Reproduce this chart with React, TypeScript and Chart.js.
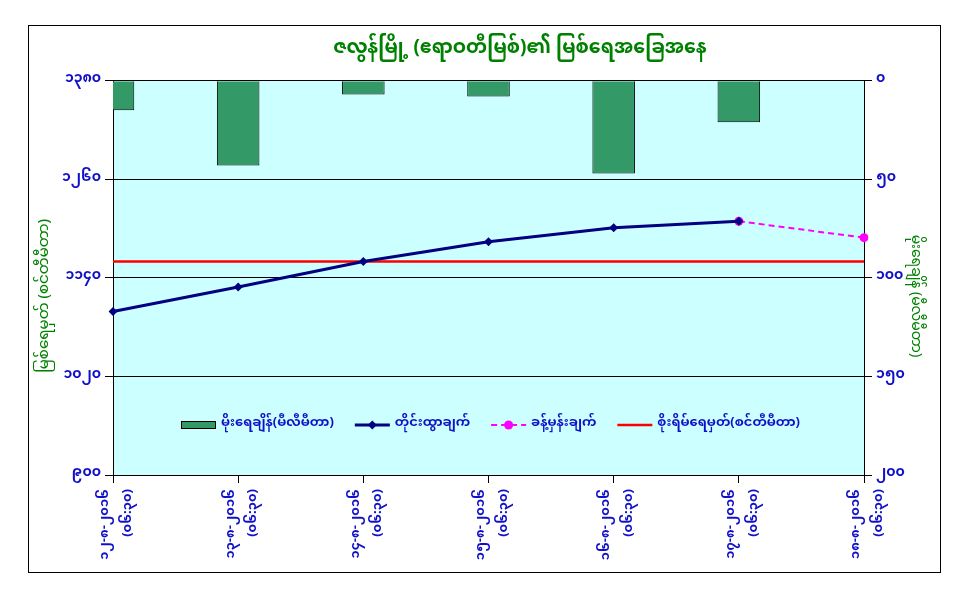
import React, { useEffect, useRef } from 'react';
import { Chart, registerables } from 'chart.js';

Chart.register(...registerables);

const FONT = "'Noto Sans Myanmar', 'Padauk', 'Myanmar Text', 'Myanmar3', 'Noto Sans', 'DejaVu Sans', sans-serif";

const titleText = 'ဇလွန်မြို့ (ဧရာဝတီမြစ်)၏ မြစ်ရေအခြေအနေ';
const leftAxisTitle = 'မြစ်ရေမှတ် (စင်တီမီတာ)';
const rightAxisTitle = 'မိုးရေချိန် (မီလီမီတာ)';

const categories = [
  ['၁၂-၈-၂၀၁၆', '(၀၆:၃၀)'],
  ['၁၃-၈-၂၀၁၆', '(၀၆:၃၀)'],
  ['၁၄-၈-၂၀၁၆', '(၀၆:၃၀)'],
  ['၁၅-၈-၂၀၁၆', '(၀၆:၃၀)'],
  ['၁၆-၈-၂၀၁၆', '(၀၆:၃၀)'],
  ['၁၇-၈-၂၀၁၆', '(၀၆:၃၀)'],
  ['၁၈-၈-၂၀၁၆', '(၀၆:၃၀)'],
];

const seriesLabels = [
  'မိုးရေချိန်(မီလီမီတာ)',
  'တိုင်းထွာချက်',
  'ခန့်မှန်းချက်',
  'စိုးရိမ်ရေမှတ်(စင်တီမီတာ)',
];

const rainfall = [15, 43, 7, 8, 47, 21, 0];
const observedLevel = [1099, 1129, 1160, 1184, 1201, 1209, null];
const forecastLevel = [null, null, null, null, null, 1209, 1189];
const dangerLevel = [1160, 1160, 1160, 1160, 1160, 1160, 1160];

const leftTickValues = [900, 1020, 1140, 1260, 1380];
const leftTickLabels = ['၉၀၀', '၁၀၂၀', '၁၁၄၀', '၁၂၆၀', '၁၃၈၀'];
const rightTickValues = [0, 50, 100, 150, 200];
const rightTickLabels = ['၀', '၅၀', '၁၀၀', '၁၅၀', '၂၀၀'];

const TICK_COLOR = '#1010C8';
const GREEN = '#008000';

const plotBg = {
  id: 'plotBg',
  beforeDraw(chart: any) {
    const { ctx, chartArea } = chart;
    ctx.save();
    ctx.fillStyle = '#CCFFFF';
    ctx.fillRect(chartArea.left, chartArea.top, chartArea.right - chartArea.left, chartArea.bottom - chartArea.top);
    ctx.restore();
  },
};

const shiftTitle = {
  id: 'shiftTitle',
  afterLayout(chart: any) {
    const t = chart.titleBlock;
    if (t) {
      t.left += 36;
      t.right += 36;
    }
  },
};

const axisTitles = {
  id: 'axisTitles',
  afterDraw(chart: any) {
    const { ctx, chartArea } = chart;
    const cy = (chartArea.top + chartArea.bottom) / 2 + 18;
    ctx.save();
    ctx.fillStyle = GREEN;
    ctx.textAlign = 'center';
    ctx.textBaseline = 'middle';
    ctx.font = `15px ${FONT}`;
    ctx.save();
    ctx.translate(chart.scales.y.left + 18, cy);
    ctx.rotate(-Math.PI / 2);
    ctx.fillText(leftAxisTitle, 0, 0);
    ctx.restore();
    ctx.font = `14px ${FONT}`;
    ctx.save();
    ctx.translate(chart.scales.yR.right - 27, cy);
    ctx.rotate(Math.PI / 2);
    ctx.fillText(rightAxisTitle, 0, 0);
    ctx.restore();
    ctx.restore();
  },
};

const innerLegend = {
  id: 'innerLegend',
  afterDraw(chart: any) {
    const { ctx, chartArea } = chart;
    const sample = 35;
    const gap = 5;
    const spacing = 21;
    ctx.save();
    ctx.font = `bold 13px ${FONT}`;
    const items = chart.data.datasets.map((ds: any) => ({ ds, w: ctx.measureText(ds.label).width }));
    const total =
      items.reduce((s: number, it: any) => s + sample + gap + it.w, 0) + spacing * (items.length - 1);
    let x = (chartArea.left + chartArea.right) / 2 - total / 2 + 2;
    const y = chartArea.bottom - 50;
    items.forEach(({ ds, w }: any) => {
      if (ds.type === 'line') {
        ctx.strokeStyle = ds.borderColor;
        ctx.lineWidth = ds.borderWidth;
        ctx.setLineDash(ds.borderDash || []);
        ctx.beginPath();
        ctx.moveTo(x, y);
        ctx.lineTo(x + sample, y);
        ctx.stroke();
        ctx.setLineDash([]);
        if (ds.pointRadius > 0) {
          ctx.fillStyle = ds.backgroundColor;
          const cx = x + sample / 2;
          const r = ds.pointRadius;
          ctx.beginPath();
          if (ds.pointStyle === 'rectRot') {
            ctx.moveTo(cx, y - r);
            ctx.lineTo(cx + r, y);
            ctx.lineTo(cx, y + r);
            ctx.lineTo(cx - r, y);
            ctx.closePath();
          } else {
            ctx.arc(cx, y, r, 0, Math.PI * 2);
          }
          ctx.fill();
        }
      } else {
        ctx.fillStyle = ds.backgroundColor;
        ctx.fillRect(x, y - 4, sample, 8);
        ctx.strokeStyle = '#000';
        ctx.lineWidth = 1;
        ctx.strokeRect(x + 0.5, y - 3.5, sample - 1, 7);
      }
      x += sample + gap;
      ctx.fillStyle = TICK_COLOR;
      ctx.textBaseline = 'middle';
      ctx.textAlign = 'left';
      ctx.fillText(ds.label, x, y);
      x += w + spacing;
    });
    ctx.restore();
  },
};

export default function App() {
  const ref = useRef<HTMLCanvasElement>(null);

  useEffect(() => {
    document.body.style.margin = '0';
    const yTickFont = { family: FONT, size: 14, weight: 'bold' as const };
    const xTickFont = { family: FONT, size: 13, weight: 'bold' as const, lineHeight: 1.75 };
    const chart = new Chart(ref.current!, {
      type: 'bar',
      data: {
        labels: categories,
        datasets: [
          {
            type: 'bar',
            label: seriesLabels[0],
            data: rainfall,
            yAxisID: 'yR',
            backgroundColor: '#339966',
            borderColor: '#000000',
            borderWidth: 1,
            barPercentage: 0.34,
            categoryPercentage: 1,
            clip: 0,
            order: 10,
          } as any,
          {
            type: 'line',
            label: seriesLabels[1],
            data: observedLevel,
            yAxisID: 'y',
            borderColor: '#000080',
            backgroundColor: '#000080',
            borderWidth: 3,
            pointStyle: 'rectRot',
            pointRadius: 4.5,
            pointBorderWidth: 0,
            tension: 0,
            order: 1,
          } as any,
          {
            type: 'line',
            label: seriesLabels[2],
            data: forecastLevel,
            yAxisID: 'y',
            borderColor: '#FF00FF',
            backgroundColor: '#FF00FF',
            borderWidth: 2,
            borderDash: [6, 4],
            pointStyle: 'circle',
            pointRadius: 4.5,
            pointBorderWidth: 0,
            tension: 0,
            order: 2,
          } as any,
          {
            type: 'line',
            label: seriesLabels[3],
            data: dangerLevel,
            yAxisID: 'y',
            borderColor: '#FF0000',
            backgroundColor: '#FF0000',
            borderWidth: 2.5,
            pointRadius: 0,
            tension: 0,
            order: 3,
          } as any,
        ],
      },
      options: {
        responsive: false,
        animation: false,
        events: [],
        layout: { padding: { left: 28, right: 30, top: 25, bottom: 28 } },
        plugins: {
          legend: { display: false },
          tooltip: { enabled: false },
          title: {
            display: true,
            text: titleText,
            color: GREEN,
            font: { family: FONT, size: 19, weight: 'bold', lineHeight: 1.2 },
            padding: { top: 15, bottom: 18 },
          },
        },
        scales: {
          x: {
            type: 'category',
            offset: false,
            grid: { offset: false, drawOnChartArea: false, color: '#000', tickLength: 8 },
            border: { color: '#000', width: 1 },
            ticks: {
              autoSkip: false,
              maxRotation: 90,
              minRotation: 90,
              color: TICK_COLOR,
              font: xTickFont,
              padding: 6,
              labelOffset: -6,
            },
            afterFit: (s: any) => {
              s.height = 97;
            },
          },
          y: {
            position: 'left',
            min: leftTickValues[0],
            max: leftTickValues[leftTickValues.length - 1],
            afterBuildTicks: (s: any) => {
              s.ticks = leftTickValues.map((v) => ({ value: v }));
            },
            ticks: {
              color: TICK_COLOR,
              font: yTickFont,
              padding: 4,
              callback: (v: any) => leftTickLabels[leftTickValues.indexOf(Number(v))] ?? '',
            },
            grid: { color: '#000', tickLength: 8 },
            border: { color: '#000', width: 1 },
            afterFit: (s: any) => {
              s.width = 85;
            },
          },
          yR: {
            position: 'right',
            reverse: true,
            min: rightTickValues[0],
            max: rightTickValues[rightTickValues.length - 1],
            afterBuildTicks: (s: any) => {
              s.ticks = rightTickValues.map((v) => ({ value: v }));
            },
            ticks: {
              color: TICK_COLOR,
              font: yTickFont,
              padding: 4,
              callback: (v: any) => rightTickLabels[rightTickValues.indexOf(Number(v))] ?? '',
            },
            grid: { drawOnChartArea: false, color: '#000', tickLength: 8 },
            border: { color: '#000', width: 1 },
            afterFit: (s: any) => {
              s.width = 76;
            },
          },
        },
      },
      plugins: [plotBg, shiftTitle, axisTitles, innerLegend],
    });
    return () => chart.destroy();
  }, []);

  return (
    <div style={{ position: 'relative', width: 970, height: 600, background: '#fff' }}>
      <canvas ref={ref} width={970} height={600} style={{ display: 'block', width: 970, height: 600 }} />
      <div
        style={{
          position: 'absolute',
          left: 28,
          top: 25,
          width: 911,
          height: 546,
          border: '1px solid #000',
          pointerEvents: 'none',
        }}
      />
    </div>
  );
}
